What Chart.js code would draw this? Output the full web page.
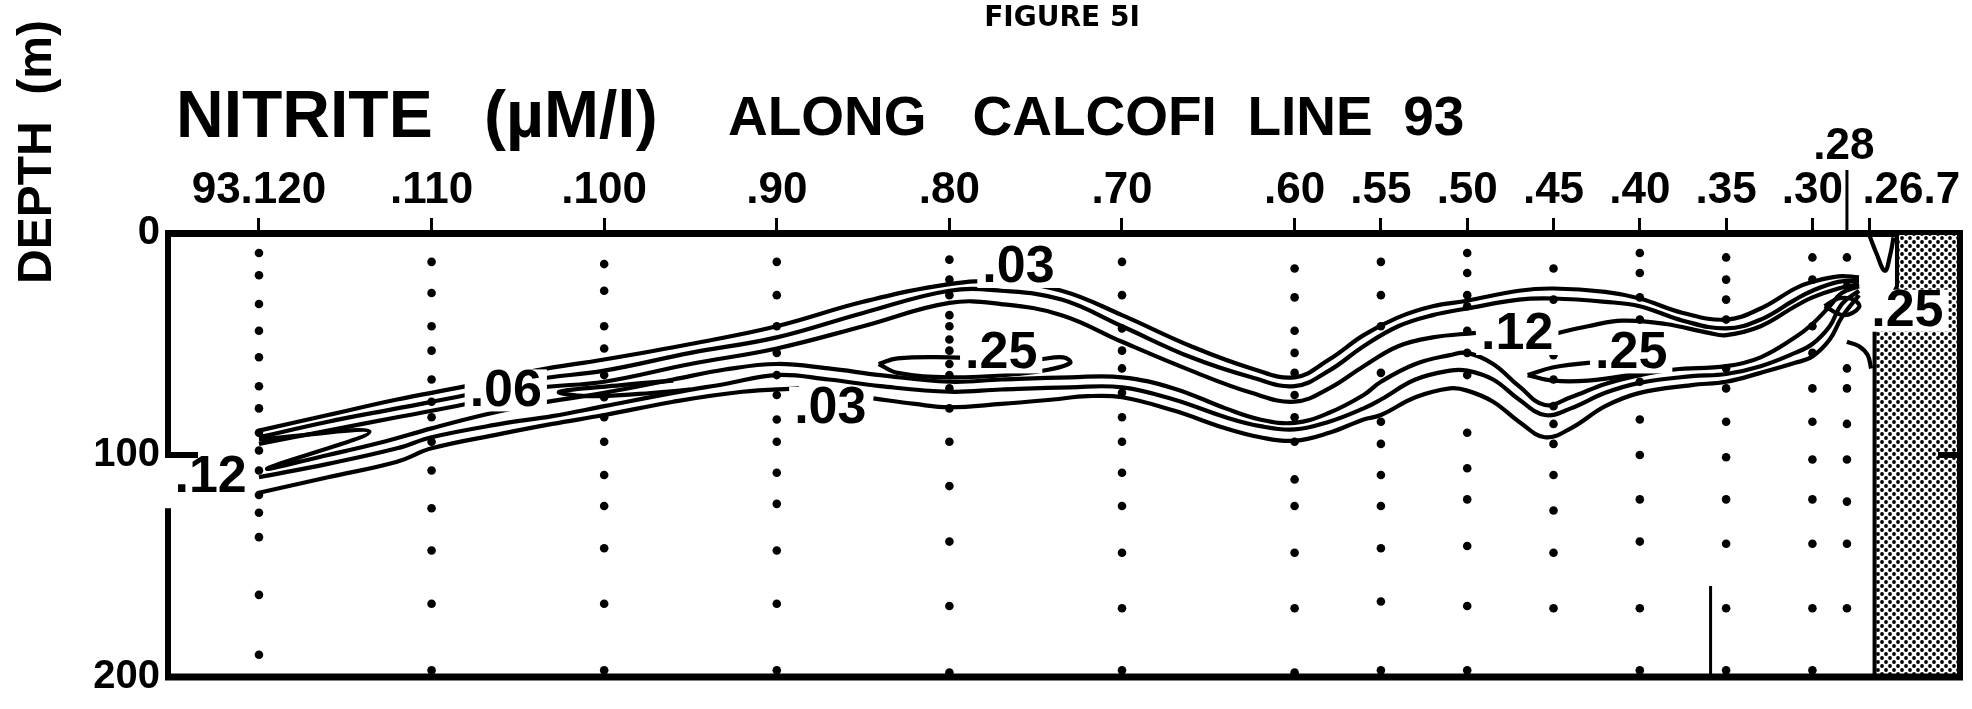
<!DOCTYPE html>
<html>
<head>
<meta charset="utf-8">
<title>Nitrite along CalCOFI line 93</title>
<script src="https://cdn.jsdelivr.net/npm/chart.js@4.4.1/dist/chart.umd.min.js"></script>
<style>
  html, body { margin: 0; padding: 0; background: #fff; }
  #wrap { width: 1972px; height: 709px; }
</style>
</head>
<body>
<div id="wrap"><canvas id="fig" width="1972" height="709"></canvas></div>
<script>
/* Figure 5I: nitrite section along CalCOFI line 93 (station number on x, depth on y) */

// ---- axes ----
var STATION_TICKS  = [120, 110, 100, 90, 80, 70, 60, 55, 50, 45, 40, 35, 30, 26.7];
var STATION_LABELS = ['93.120', '.110', '.100', '.90', '.80', '.70', '.60', '.55', '.50', '.45', '.40', '.35', '.30', ''];
var DEPTH_TICKS    = [0, 100, 200];

// ---- sample bottles (station, depths in m) ----
var SAMPLE_STATIONS = [120, 110, 100, 90, 80, 70, 60, 55, 50, 45, 40, 35, 30, 28];
var SAMPLE_DEPTHS = [
  [9, 19, 32, 44, 56, 69, 79, 90, 98, 107, 118, 126, 137, 163, 190],
  [13, 27, 42, 53, 66, 76, 83, 94, 107, 124, 143, 167, 197],
  [14, 26, 42, 52, 64, 74, 83, 94, 109, 123, 142, 167, 197],
  [13, 28, 42, 54, 64, 73, 84, 94, 108, 122, 143, 167, 197],
  [12, 21, 28, 37, 42, 48, 53, 59, 64, 70, 79, 94, 114, 139, 168, 198],
  [13, 28, 43, 53, 61, 72, 83, 94, 108, 123, 144, 169, 197],
  [16, 29, 44, 54, 63, 73, 83, 94, 111, 123, 144, 169, 198],
  [13, 28, 42, 63, 85, 95, 109, 123, 142, 166, 197],
  [9, 18, 28, 33, 44, 54, 64, 90, 106, 120, 141, 168, 197],
  [16, 30, 55, 66, 78, 86, 95, 109, 125, 144, 169],
  [9, 18, 29, 39, 67, 84, 100, 120, 139, 169, 197],
  [11, 21, 30, 39, 61, 70, 85, 101, 120, 140, 169, 197],
  [11, 21, 42, 54, 70, 85, 102, 120, 140, 169, 197],
  [11, 24, 61, 70, 86, 102, 121, 140, 169]
];

// ---- contours [station, depth] ----
var C03_UPPER = [[120,89],[116,82],[112,75],[108,69],[104,62],[100,57],[95,50],[90,42],[85,31],[80,23],[77,22],[73.5,26],[70,37],[66,51],[62.5,61],[60,65],[58,57],[56,46],[54,38],[52,33],[50,30.5],[47,26],[45,25],[42,26.5],[40,29.5],[37.5,36],[35,39],[33,34],[31,25],[30,22],[28.5,19.5],[27.3,20]];
var C06_UPPER = [[120,92],[116,85],[112,79],[108,73],[104,66],[100,62],[95,54],[90,47],[85,36],[80,26],[77,26],[73.5,30],[70,42],[66,56],[62.5,65],[60,69],[58,62],[56,51],[54,42],[52,37],[50,34],[47,30],[45,29.5],[42,31],[40,33],[37.5,39.5],[35,43],[33,39],[31,30],[30,26],[28.5,22],[27.3,21.5]];
var C12_UPPER = [[120,95],[116,89],[112,83],[108,77],[104,70],[100,67],[95,59],[90,52],[85,42],[80,31.5],[77,32],[73.5,37],[70,49],[66,62],[62.5,72],[60,76],[58,70],[56,60],[54,51],[52,47],[49.5,45]];
var C12_UPPER_E = [[45,45.5],[43,42],[41,39.5],[38.5,41],[36,45],[35,46],[33,42],[31,33],[30,29],[28.5,25],[27.3,23]];
var C12_LOWER = [[120,93],[113.6,89.5],[119.5,106],[116,100],[113,94.5],[110,88],[107,82],[104,77],[100,72],[96,66],[93,61.5],[90,59],[87,61],[84,64],[80,67],[77,66],[73,65],[70,65],[67,70],[64,79],[62,84],[60,85.5],[58,81],[56,73],[55,67],[53,59],[51,55],[50,54],[48.5,59],[47,69],[45.5,77.5],[44,74],[42,68],[40,64],[38,61.5],[35,60],[33,56],[31,47],[30,41],[29,33],[28.3,27],[27.3,24]];
var C06_LOWER = [[120,110],[116,104],[112,97],[110,92],[106,86],[103,82.5],[100,78],[96,72],[93,68],[90,64],[87,66],[84,69],[80,71.5],[77,70.5],[73,69.5],[70,69.5],[67,75],[64,83],[62,87],[60,88.5],[58,85],[56,79],[55,75],[53,66],[51,62],[50,62],[48.5,66],[47,75],[45.5,82],[44,79],[42,72],[40,67.5],[37,64.5],[35,63.5],[33,60],[31,54],[30,50],[29,42],[28.3,32],[27.3,26]];
var C03_LOWER_W = [[120,117],[116,110],[112,103],[110,97],[106,90.5],[103,86],[100,82],[96,76],[92,71.5],[88.7,70]];
var C03_LOWER = [[84.4,74.5],[82,77],[80,78.5],[77,77],[74,75],[72,73.5],[70,74],[67,80],[64,88],[62,92],[60,93.6],[58,90],[56,84],[55,82],[53,74],[51,70],[50,71],[48.5,76],[47,85],[45.5,92],[44,88],[42,78],[40,72],[37,68.5],[35,67],[33,63],[31,58.5],[30,55.6],[29,48],[28.3,38],[27.3,28]];
var C12_TONGUE = [[96,66.5],[99,68.5],[102.6,71.5],[101,73.5],[98,72.5],[95,70.5]];
var C25_A = [[84.1,59],[83,56.5],[80,56],[78,56.5],[75,57],[73.4,56],[73,58.5],[74.2,61.5],[76,63.5],[80,65],[83,63],[84.1,59]];
var C25_B = [[46.5,64],[45,60.5],[43,58.5],[41,58],[39.5,58.5],[39,61],[41,64.5],[43,66.5],[45,66.5],[46.5,64]];
var C25_C = [[29.3,33],[28.5,29.5],[27.6,30],[27.3,33.5],[28.2,37],[29.3,33]];
var COAST_V = [[26.7,1],[26.3,9],[25.8,17],[25.5,10],[25.3,2]];
var COAST_HOOK = [[28,49],[27.3,51],[26.8,55],[26.6,61]];

// ---- shelf / land outline and bottom mark ----
var LAND = [[25.1,0],[25.1,24],[26.4,44],[26.4,200],[21.45,200],[21.45,0],[25.1,0]];
var BOTTOM_MARK = [[35.9,159],[35.9,200]];

// ---- contour labels ----
var LABEL_TEXT    = ['.03', '.25', '.03', '.06', '.12', '.12', '.25', '.25'];
var LABEL_STATION = [76.0, 77.0, 86.9, 105.7, 122.8, 47.1, 40.5, 24.5];
var LABEL_DEPTH   = [15.3, 53.8, 78.8, 70.9, 109.8, 45.5, 53.8, 35.0];

var FONT = '"Liberation Sans", Arial, Helvetica, sans-serif';

function pts(arr) { return arr.map(function (p) { return { x: p[0], y: p[1] }; }); }

function contour(arr) {
  return { data: pts(arr), borderColor: '#000', borderWidth: 4.2, pointRadius: 0, tension: 0.4, fill: false };
}

function stipple() {
  var t = document.createElement('canvas');
  t.width = 8; t.height = 8;
  var g = t.getContext('2d');
  g.fillStyle = '#fff'; g.fillRect(0, 0, 8, 8);
  g.fillStyle = '#000';
  g.beginPath(); g.arc(2, 2, 1.9, 0, Math.PI * 2); g.fill();
  g.beginPath(); g.arc(6, 6, 1.9, 0, Math.PI * 2); g.fill();
  return g.createPattern(t, 'repeat');
}

var dots = [];
SAMPLE_STATIONS.forEach(function (s, i) {
  SAMPLE_DEPTHS[i].forEach(function (d) { dots.push({ x: s, y: d }); });
});

var datasets = [
  { data: pts(LAND), borderColor: '#000', borderWidth: 4, backgroundColor: stipple(), fill: 'shape', pointRadius: 0, tension: 0 },
  { data: pts(BOTTOM_MARK), borderColor: '#000', borderWidth: 3, pointRadius: 0, tension: 0, fill: false },
  { data: dots, showLine: false, pointRadius: 4.3, pointBackgroundColor: '#000', pointBorderWidth: 0, borderColor: '#000' }
];
[C03_UPPER, C06_UPPER, C12_UPPER, C12_UPPER_E, C12_LOWER, C06_LOWER, C03_LOWER_W, C03_LOWER,
 C12_TONGUE, C25_A, C25_B, C25_C, COAST_V, COAST_HOOK].forEach(function (c) { datasets.push(contour(c)); });

function line(c, x1, y1, x2, y2) { c.beginPath(); c.moveTo(x1, y1); c.lineTo(x2, y2); c.stroke(); }

var decor = {
  id: 'decor',
  beforeDraw: function (chart) {
    var c = chart.ctx;
    c.save(); c.fillStyle = '#fff'; c.fillRect(0, 0, chart.width, chart.height); c.restore();
  },
  afterDatasetsDraw: function (chart) {
    var c = chart.ctx, xs = chart.scales.x, ys = chart.scales.y;
    c.save();
    c.font = 'bold 52px ' + FONT;
    c.textAlign = 'center'; c.textBaseline = 'middle';
    LABEL_TEXT.forEach(function (t, i) {
      var px = xs.getPixelForValue(LABEL_STATION[i]), py = ys.getPixelForValue(LABEL_DEPTH[i]);
      var w = c.measureText(t).width;
      c.fillStyle = '#fff'; c.fillRect(px - w / 2 - 5, py - 21, w + 10, 42);
      c.fillStyle = '#000'; c.fillText(t, px, py + 1);
    });
    c.restore();
  },
  afterDraw: function (chart) {
    var c = chart.ctx, a = chart.chartArea, xs = chart.scales.x, ys = chart.scales.y;
    c.save();
    c.strokeStyle = '#000'; c.fillStyle = '#000'; c.lineCap = 'butt';

    // frame: left axis is broken where the .12 label sits
    var y100 = ys.getPixelForValue(100), yGap = ys.getPixelForValue(124);
    c.lineWidth = 6;
    line(c, a.left, a.top - 3, a.left, y100 + 3);
    line(c, a.left, yGap, a.left, a.bottom + 3);
    line(c, a.left - 3, y100, a.left + 30, y100);
    line(c, a.right, a.top - 3, a.right, a.bottom + 3);
    line(c, a.right, y100, a.right - 22, y100);
    c.lineWidth = 7;
    line(c, a.left - 3, a.bottom, a.right + 3, a.bottom);

    // station .28 marker and the .26.7 label
    var x28 = xs.getPixelForValue(28);
    c.lineWidth = 3;
    line(c, x28, a.top - 63, x28, a.top);
    c.font = 'bold 44px ' + FONT;
    c.textAlign = 'center'; c.textBaseline = 'middle';
    c.fillText('.28', x28 - 3, a.top - 86);
    c.textAlign = 'left';
    c.fillText('.26.7', xs.getPixelForValue(26.7) - 7, a.top - 42);

    // titles
    c.textBaseline = 'alphabetic';
    c.font = 'bold 66px ' + FONT;
    c.fillText('NITRITE', 176, 137);
    c.fillText('(\u00b5M/l)', 484, 137);
    c.font = 'bold 55px ' + FONT;
    c.fillText('ALONG   CALCOFI  LINE  93', 728, 135);
    c.font = 'bold 28px "DejaVu Sans", sans-serif';
    c.textAlign = 'center';
    c.fillText('FIGURE 5I', 1062, 26);

    c.translate(38, 152);
    c.rotate(-Math.PI / 2);
    c.font = 'bold 48px ' + FONT;
    c.textBaseline = 'middle';
    c.fillText('DEPTH  (m)', 0, 0);
    c.restore();
  }
};

new Chart(document.getElementById('fig'), {
  type: 'line',
  data: { datasets: datasets },
  options: {
    responsive: false,
    animation: false,
    events: [],
    layout: { padding: { top: 158, left: 0, right: 12, bottom: 19 } },
    plugins: { legend: { display: false }, tooltip: { enabled: false } },
    scales: {
      x: {
        type: 'linear', position: 'top', reverse: true, min: 21.45, max: 125.27,
        afterBuildTicks: function (s) { s.ticks = STATION_TICKS.map(function (v) { return { value: v }; }); },
        afterFit: function (s) { s.height = 75; },
        ticks: {
          autoSkip: false, maxRotation: 0, minRotation: 0, padding: 1, color: '#000',
          font: { family: FONT, size: 44, weight: 'bold' },
          callback: function (v, i) { return STATION_LABELS[i]; }
        },
        grid: { display: true, drawOnChartArea: false, drawTicks: true, tickLength: 15, tickWidth: 3, tickColor: '#000', color: '#000' },
        border: { display: true, width: 7, color: '#000' }
      },
      y: {
        type: 'linear', position: 'left', reverse: true, min: 0, max: 200,
        afterBuildTicks: function (s) { s.ticks = DEPTH_TICKS.map(function (v) { return { value: v }; }); },
        afterFit: function (s) { s.width = 168; },
        ticks: { padding: 8, color: '#000', font: { family: FONT, size: 40, weight: 'bold' } },
        grid: { display: false, drawTicks: false },
        border: { display: false }
      }
    }
  },
  plugins: [decor]
});
</script>
</body>
</html>
